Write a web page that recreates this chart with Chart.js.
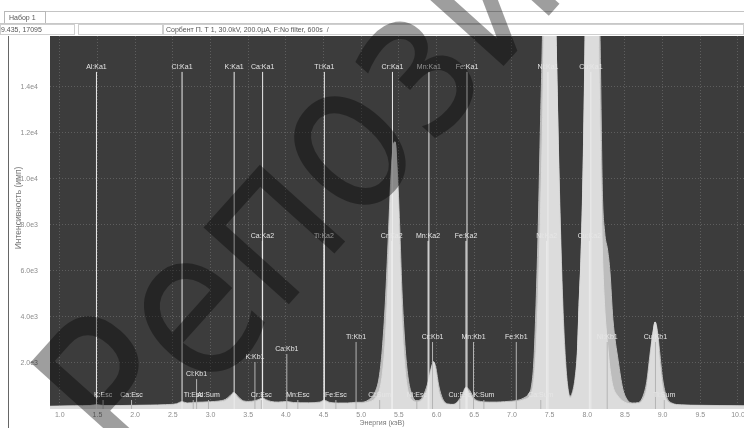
<!DOCTYPE html>
<html><head><meta charset="utf-8">
<script src="https://cdn.jsdelivr.net/npm/chart.js@4"></script>
<style>
html,body{margin:0;padding:0;background:#fff;width:744px;height:428px;overflow:hidden;font-family:"Liberation Sans",Arial,sans-serif;}
#wrap{position:relative;width:744px;height:428px;overflow:hidden;}
canvas{position:absolute;left:0;top:0;}
.b{position:absolute;box-sizing:border-box;}
.t{position:absolute;font-size:7px;color:#555;line-height:9px;white-space:nowrap;}
#wm{position:absolute;left:157px;top:290px;height:210px;font-family:"DejaVu Sans",sans-serif;font-size:210px;line-height:210px;color:rgba(0,0,0,0.38);white-space:nowrap;transform-origin:0 100%;transform:rotate(-48deg) scaleX(0.85);pointer-events:none;}
</style></head>
<body><div id="wrap">
<canvas id="c" width="744" height="428"></canvas>
<div class="b" style="left:46px;top:11px;width:698px;height:1px;background:#c4c4c4"></div>
<div class="b" style="left:4px;top:11px;width:42px;height:13px;border:1px solid #b8b8b8;border-bottom:none;background:#fff"></div>
<div class="t" style="left:9px;top:13px">Набор 1</div>
<div class="b" style="left:0;top:23px;width:744px;height:1px;background:#c8c8c8"></div>
<div class="b" style="left:0;top:24px;width:75px;height:11px;border:1px solid #cfcfcf"></div>
<div class="b" style="left:78px;top:24px;width:85px;height:11px;border:1px solid #cfcfcf"></div>
<div class="b" style="left:163px;top:24px;width:581px;height:11px;border:1px solid #cfcfcf"></div>
<div class="t" style="left:1px;top:25px">9.435, 17095</div>
<div class="t" style="left:166px;top:25px">Сорбент П. Т 1, 30.0kV, 200.0µA, F:No filter, 600s &nbsp;/</div>
<div class="b" style="left:8px;top:36px;width:1px;height:392px;background:#666"></div>
<div id="wm">Репозиторий</div>
</div>
<script>
// ---- spectrum (energy keV, counts): outer (grey) and inner (bright) traces ----
const spectrumE = [0.87,1.0,1.2,1.4,1.49,1.58,1.8,2.0,2.2,2.4,2.55,2.62,2.69,2.8,2.9,3.0,3.1,3.2,3.26,3.31,3.36,3.42,3.5,3.59,3.65,3.69,3.74,3.8,3.9,4.01,4.1,4.3,4.45,4.51,4.58,4.7,4.82,4.93,5.0,5.1,5.18,5.24,5.28,5.32,5.36,5.39,5.42,5.45,5.48,5.51,5.54,5.58,5.62,5.67,5.73,5.79,5.84,5.89,5.93,5.96,5.99,6.03,6.08,6.15,6.22,6.28,6.34,6.39,6.44,6.5,6.58,6.7,6.8,6.9,7.0,7.08,7.16,7.22,7.26,7.29,7.32,7.35,7.38,7.41,7.45,7.49,7.53,7.56,7.59,7.62,7.65,7.68,7.71,7.74,7.77,7.8,7.84,7.87,7.89,7.92,7.95,7.97,8.0,8.05,8.1,8.14,8.17,8.2,8.23,8.27,8.3,8.34,8.41,8.47,8.53,8.6,8.68,8.74,8.79,8.83,8.87,8.9,8.93,8.96,9.0,9.05,9.12,9.25,9.5,9.75,10.08];
const spectrumCounts = [120,130,140,150,190,150,150,160,170,190,230,320,260,290,300,320,340,420,580,720,560,380,330,360,430,480,400,330,300,330,280,270,300,380,290,260,260,290,290,400,700,1400,2600,4600,7500,9800,11300,11600,10300,8000,5200,2800,1400,650,360,420,700,1200,1800,2050,1800,1000,450,220,200,330,620,950,800,450,330,300,300,320,340,380,480,650,1000,2000,4500,8000,12500,17000,26000,31000,27000,20000,15500,11000,7200,4200,2200,1000,560,700,1400,2600,4500,7000,11500,16000,24000,32000,27000,21000,16000,9500,7700,6900,6000,3900,2100,900,400,260,280,550,1200,2300,3300,3780,3400,2500,1300,550,260,180,160,150,140];
const brightCounts = [100,110,120,130,160,130,130,140,150,160,200,280,230,250,260,280,300,360,500,680,480,330,290,320,380,440,350,290,260,290,250,240,260,340,250,230,230,250,250,300,450,800,1500,3000,5800,9000,11200,11600,9800,6800,3800,1800,800,400,300,350,550,1000,1700,2050,1600,750,350,190,180,280,520,900,650,380,290,260,260,280,300,330,400,500,700,1200,2500,5000,8500,13000,22000,31000,27000,20000,15500,10500,6500,3500,1800,850,480,600,1200,2400,4300,6800,11000,15500,24000,32000,26000,18000,12000,7000,4500,2800,1800,1000,550,350,250,220,240,400,900,2000,3200,3780,3200,2000,900,400,220,160,140,130,120];

// ---- line markers: name, energy (keV), label height (counts) ----
const kaNames  = ['Al:Ka1','Cl:Ka1','K:Ka1','Ca:Ka1','Ti:Ka1','Cr:Ka1','Mn:Ka1','Fe:Ka1','Ni:Ka1','Cu:Ka1','Ca:Ka2','Ti:Ka2','Cr:Ka2','Mn:Ka2','Fe:Ka2','Ni:Ka2','Cu:Ka2'];
const kaEnergy = [1.4865,2.6224,3.3138,3.6917,4.5109,5.4147,5.8988,6.4038,7.4782,8.0478,3.6881,4.5049,5.4055,5.8877,6.3908,7.4609,8.0278];
const kaTop    = [14640,14640,14640,14640,14640,14640,14640,14640,14640,14640,7300,7300,7300,7300,7300,7300,7300];
const kbNames  = ['Cl:Kb1','K:Kb1','Ca:Kb1','Ti:Kb1','Cr:Kb1','Mn:Kb1','Fe:Kb1','Ni:Kb1','Cu:Kb1'];
const kbEnergy = [2.8156,3.5896,4.0127,4.9318,5.9467,6.4905,7.058,8.2647,8.9053];
const kbTop    = [1300,2040,2390,2910,2910,2910,2910,2910,2910];
const escNames  = ['K:Esc','Ca:Esc','Ti:Esc','Al:Sum','Cr:Esc','Mn:Esc','Fe:Esc','Cl:Sum','Ni:Esc','Cu:Esc','K:Sum','Ca:Sum','Ti:Sum'];
const escEnergy = [1.574,1.952,2.771,2.973,3.675,4.159,4.664,5.245,5.738,6.308,6.628,7.383,9.022];
const escTop    = [390,390,390,390,390,390,390,390,390,390,390,390,390];

// ---- ticks ----
const xTickValues = [1.0,1.5,2.0,2.5,3.0,3.5,4.0,4.5,5.0,5.5,6.0,6.5,7.0,7.5,8.0,8.5,9.0,9.5,10.0];
const xTickLabels = ['1.0','1.5','2.0','2.5','3.0','3.5','4.0','4.5','5.0','5.5','6.0','6.5','7.0','7.5','8.0','8.5','9.0','9.5','10.0'];
const yTickValues = [2000,4000,6000,8000,10000,12000,14000];
const yTickLabels = ['2.0e3','4.0e3','6.0e3','8.0e3','1.0e4','1.2e4','1.4e4'];
const xTitle = 'Энергия (кэВ)';
const yTitle = 'Интенсивность (имп)';

function segs(E, T){ const d=[]; E.forEach((e,i)=>{ d.push({x:e,y:0},{x:e,y:T[i]},{x:e,y:null}); }); return d; }
const FONT = '"Liberation Sans", Arial, sans-serif';
const NARROW = '"Liberation Sans Narrow", "Liberation Sans", Arial, sans-serif';

const bgPlugin = {
  id:'bg',
  beforeDraw(chart){ const a=chart.chartArea, c=chart.ctx; c.save(); c.fillStyle='#3c3c3c'; c.fillRect(a.left,a.top,a.right-a.left,a.bottom-a.top); c.restore(); },
  afterDatasetsDraw(chart){
    const c=chart.ctx, a=chart.chartArea, xs=chart.scales.x, ys=chart.scales.y;
    c.save(); c.beginPath(); c.rect(a.left,a.top,a.right-a.left,a.bottom-a.top); c.clip();
    c.font='7px '+FONT; c.fillStyle='#e6e6e6'; c.textAlign='center'; c.textBaseline='middle';
    [[kaNames,kaEnergy,kaTop],[kbNames,kbEnergy,kbTop],[escNames,escEnergy,escTop]].forEach(([N,E,T])=>{
      N.forEach((n,i)=>{ c.fillText(n, xs.getPixelForValue(E[i]), ys.getPixelForValue(T[i])-5); });
    });
    c.restore();
    c.save(); c.font='7px '+FONT; c.fillStyle='#777'; c.textAlign='center'; c.textBaseline='middle';
    c.fillText(xTitle, 382, 423);
    c.font='8.5px '+FONT;
    c.translate(19,208); c.rotate(-Math.PI/2); c.fillText(yTitle,0,0);
    c.restore();
  }
};

new Chart(document.getElementById('c'), {
  type:'line',
  data:{ datasets:[
    {data:segs(kaEnergy,kaTop), borderColor:'#ececec', borderWidth:1, pointRadius:0, spanGaps:false, fill:false, order:1},
    {data:segs(kbEnergy,kbTop), borderColor:'#b4b4b4', borderWidth:1, pointRadius:0, spanGaps:false, fill:false, order:2},
    {data:segs(escEnergy,escTop), borderColor:'#b4b4b4', borderWidth:1, pointRadius:0, spanGaps:false, fill:false, order:3},
    {data:spectrumE.map((e,i)=>({x:e,y:brightCounts[i]})), borderColor:'#dcdcdc', backgroundColor:'#dcdcdc', borderWidth:1, pointRadius:0, fill:'origin', cubicInterpolationMode:'monotone', order:9},
    {data:spectrumE.map((e,i)=>({x:e,y:spectrumCounts[i]})), borderColor:'#bdbdbd', backgroundColor:'#bdbdbd', borderWidth:1, pointRadius:0, fill:'origin', cubicInterpolationMode:'monotone', order:10}
  ]},
  options:{
    responsive:false, animation:false, events:[],
    layout:{padding:{top:36,left:0,right:0,bottom:0}},
    plugins:{legend:{display:false}, tooltip:{enabled:false}},
    scales:{
      x:{type:'linear', min:0.87, max:10.08,
         afterBuildTicks:s=>{ s.ticks = xTickValues.map(v=>({value:v})); },
         afterFit:s=>{ s.height=19; s.paddingLeft=0; s.paddingRight=0; },
         grid:{color:'#5e5e5e', lineWidth:1, drawTicks:false},
         border:{display:false, dash:[1,2]},
         ticks:{padding:2, maxRotation:0, autoSkip:false, color:'#8c8c8c', font:{family:NARROW,size:7}, callback:(v,i)=>xTickLabels[i]}},
      y:{type:'linear', min:0, max:16200,
         afterBuildTicks:s=>{ s.ticks = yTickValues.map(v=>({value:v})); },
         afterFit:s=>{ s.width=50; },
         grid:{color:'#5e5e5e', lineWidth:1, drawTicks:false},
         border:{display:false, dash:[1,2]},
         ticks:{padding:12, autoSkip:false, color:'#8c8c8c', font:{family:NARROW,size:7}, callback:(v,i)=>yTickLabels[i]}}
    }
  },
  plugins:[bgPlugin]
});
</script>
</body></html>
